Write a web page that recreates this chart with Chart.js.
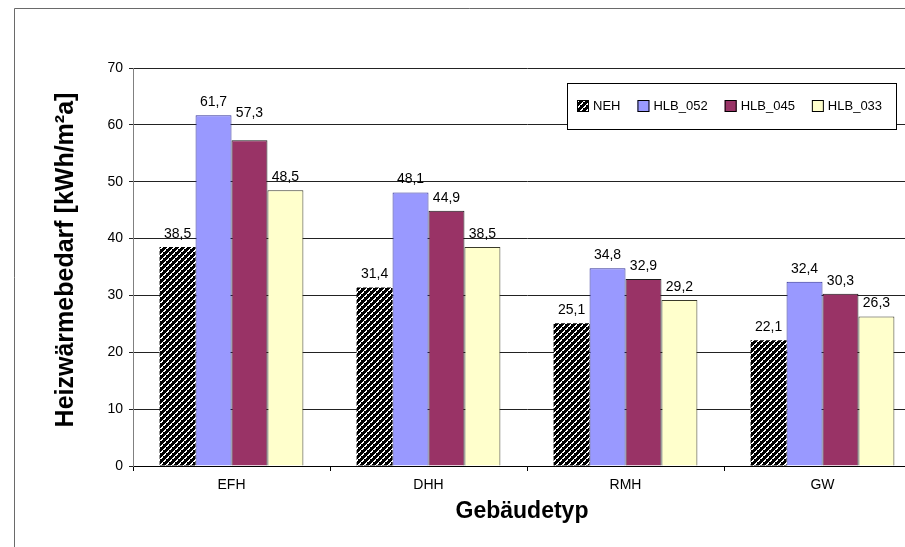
<!DOCTYPE html>
<html>
<head>
<meta charset="utf-8">
<script src="https://cdn.jsdelivr.net/npm/chart.js@4/dist/chart.umd.min.js"></script>
<style>
  html, body { margin: 0; padding: 0; background: #fff; overflow: hidden; width: 905px; height: 547px; }
  #wrap { position: absolute; left: 0; top: 0; width: 925px; height: 547px; }
</style>
</head>
<body>
<div id="wrap"><canvas id="c" width="925" height="547"></canvas></div>
<script>
// Building types and heating demand per standard (kWh/m²a)
const categories = ['EFH', 'DHH', 'RMH', 'GW'];
const seriesNames = ['NEH', 'HLB_052', 'HLB_045', 'HLB_033'];
const neh    = [38.5, 31.4, 25.1, 22.1];
const hlb052 = [61.7, 48.1, 34.8, 32.4];
const hlb045 = [57.3, 44.9, 32.9, 30.3];
const hlb033 = [48.5, 38.5, 29.2, 26.3];
const yTicks = [0, 10, 20, 30, 40, 50, 60, 70];
const xTitle = 'Gebäudetyp';
const yTitle = 'Heizwärmebedarf [kWh/m²a]';

const FONT = '"Liberation Sans", Arial, Helvetica, sans-serif';

// Black fill with white upward diagonal hatching
function hatchPattern() {
  const n = 6;
  const t = document.createElement('canvas');
  t.width = n; t.height = n;
  const g = t.getContext('2d');
  g.fillStyle = '#000';
  g.fillRect(0, 0, n, n);
  g.fillStyle = '#fff';
  for (let y = 0; y < n; y++) {
    for (let x = 0; x < n; x++) {
      const d = (x + y) % n;
      if (d === 0 || (d === 1 && y % 3 !== 0)) g.fillRect(x, y, 1, 1);
    }
  }
  return g.createPattern(t, 'repeat');
}

const fmt = v => v.toFixed(1).replace('.', ',');

// Outer frame around the chart
const framePlugin = {
  id: 'frame',
  beforeDraw(chart) {
    const c = chart.ctx;
    c.save();
    c.fillStyle = '#fff';
    c.fillRect(0, 0, chart.width, chart.height);
    c.strokeStyle = '#6a6a6a';
    c.lineWidth = 1;
    c.beginPath();
    c.moveTo(14.5, chart.height);
    c.lineTo(14.5, 8.5);
    c.lineTo(chart.width, 8.5);
    c.stroke();
    c.restore();
  }
};

// Value labels above each bar
const extraLift = { '2:0': 14 };
const labelPlugin = {
  id: 'valueLabels',
  afterDatasetsDraw(chart) {
    const c = chart.ctx;
    c.save();
    c.font = '14px ' + FONT;
    c.fillStyle = '#000';
    c.textAlign = 'center';
    c.textBaseline = 'middle';
    chart.data.datasets.forEach((ds, di) => {
      chart.getDatasetMeta(di).data.forEach((bar, i) => {
        const lift = 13 + (extraLift[di + ':' + i] || 0);
        c.fillText(fmt(ds.data[i]), bar.x, bar.y - lift);
      });
    });
    c.restore();
  }
};

// Boxed legend inside the plot area, plus both axis titles
const legendPlugin = {
  id: 'boxLegend',
  afterDraw(chart) {
    const c = chart.ctx;
    const area = chart.chartArea;
    c.save();
    const box = { x: 567, y: 83, w: 329, h: 46 };
    c.fillStyle = '#fff';
    c.fillRect(box.x, box.y, box.w, box.h);
    c.strokeStyle = '#000';
    c.lineWidth = 1;
    c.strokeRect(box.x + 0.5, box.y + 0.5, box.w, box.h);
    c.font = '13px ' + FONT;
    c.textBaseline = 'middle';
    c.textAlign = 'left';
    let x = 577;
    const cy = 106;
    chart.data.datasets.forEach((ds) => {
      c.fillStyle = ds.backgroundColor;
      c.fillRect(x, cy - 6, 12, 12);
      c.strokeStyle = '#000';
      c.strokeRect(x + 0.5, cy - 5.5, 11, 11);
      c.fillStyle = '#000';
      c.fillText(ds.label, x + 16, cy);
      x += 16 + c.measureText(ds.label).width + 17;
    });

    c.fillStyle = '#000';
    c.textAlign = 'center';
    c.font = 'bold 23px ' + FONT;
    c.fillText(xTitle, 522, 512);

    c.font = 'bold 25px ' + FONT;
    c.translate(66, 260);
    c.rotate(-Math.PI / 2);
    c.fillText(yTitle, 0, 0);
    c.restore();
  }
};

const chart = new Chart(document.getElementById('c'), {
  type: 'bar',
  data: {
    labels: categories,
    datasets: [
      { label: seriesNames[0], data: neh,    backgroundColor: hatchPattern(), borderColor: '#000',    borderWidth: 0 },
      { label: seriesNames[1], data: hlb052, backgroundColor: '#9999FF',     borderColor: '#333399', borderWidth: 1 },
      { label: seriesNames[2], data: hlb045, backgroundColor: '#993366',     borderColor: '#1a1a1a', borderWidth: 1 },
      { label: seriesNames[3], data: hlb033, backgroundColor: '#FFFFCC',     borderColor: '#3a3a2a', borderWidth: 1 }
    ]
  },
  options: {
    responsive: false,
    animation: false,
    events: [],
    layout: { padding: { top: 68, right: 4, left: 0, bottom: 0 } },
    datasets: { bar: { categoryPercentage: 0.73, barPercentage: 1 } },
    plugins: { legend: { display: false }, tooltip: { enabled: false } },
    scales: {
      x: {
        grid: { offset: true, drawOnChartArea: false, drawTicks: true, tickLength: 5, color: '#000' },
        border: { color: '#000' },
        ticks: { color: '#000', padding: 6, font: { family: FONT, size: 14 } },
        afterFit(s) { s.height = 81; }
      },
      y: {
        min: 0, max: 70,
        afterBuildTicks(s) { s.ticks = yTicks.map(v => ({ value: v })); },
        grid: { color: '#222', tickLength: 4, drawTicks: true },
        border: { color: '#808080' },
        ticks: { color: '#000', padding: 6, font: { family: FONT, size: 14 } },
        afterFit(s) { s.width = 133; }
      }
    }
  },
  plugins: [framePlugin, labelPlugin, legendPlugin]
});
</script>
</body>
</html>
